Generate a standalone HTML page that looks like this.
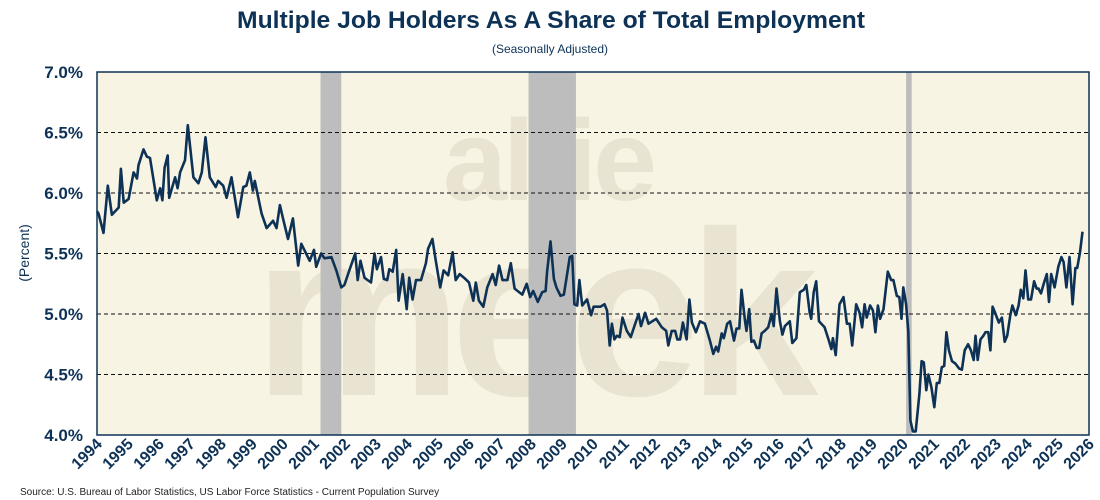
<!DOCTYPE html>
<html><head><meta charset="utf-8"><style>
body{margin:0;background:#fff;width:1100px;height:500px;overflow:hidden;font-family:"Liberation Sans",sans-serif}
svg{display:block}
</style></head><body>
<svg id="chart" width="1100" height="500" xmlns="http://www.w3.org/2000/svg">
<text x="551" y="28" text-anchor="middle" font-size="24" font-weight="bold" fill="#0d3256" textLength="628" lengthAdjust="spacingAndGlyphs">Multiple Job Holders As A Share of Total Employment</text>
<text x="550" y="53" text-anchor="middle" font-size="12" fill="#0d3256">(Seasonally Adjusted)</text>
<text transform="translate(29,253) rotate(-90)" text-anchor="middle" font-size="14" fill="#0d3256">(Percent)</text>
<text x="20" y="495" font-size="10" fill="#222">Source: U.S. Bureau of Labor Statistics, US Labor Force Statistics - Current Population Survey</text>
<g id="plot"></g>
</svg>
<script>
const yTicks=[4.0,4.5,5.0,5.5,6.0,6.5,7.0];
const years=[1994,1995,1996,1997,1998,1999,2000,2001,2002,2003,2004,2005,2006,2007,2008,2009,2010,2011,2012,2013,2014,2015,2016,2017,2018,2019,2020,2021,2022,2023,2024,2025,2026];
const recessions=[[2001.21,2001.88],[2007.92,2009.45],[2020.1,2020.28]];
const dates=[1994.0,1994.05,1994.21,1994.35,1994.48,1994.70,1994.77,1994.86,1995.02,1995.18,1995.29,1995.34,1995.50,1995.61,1995.71,1995.93,1996.04,1996.11,1996.18,1996.28,1996.33,1996.52,1996.60,1996.68,1996.84,1996.93,1997.11,1997.27,1997.38,1997.50,1997.64,1997.83,1997.91,1998.07,1998.18,1998.34,1998.55,1998.72,1998.82,1998.93,1999.03,1999.09,1999.31,1999.47,1999.68,1999.79,1999.90,2000.00,2000.16,2000.32,2000.49,2000.59,2000.86,2001.00,2001.07,2001.23,2001.34,2001.56,2001.72,
2001.88,2001.98,2002.14,2002.33,2002.41,2002.50,2002.63,2002.73,2002.84,2002.95,2003.03,2003.16,2003.25,2003.36,2003.43,2003.54,2003.65,2003.73,2003.86,2003.99,2004.07,2004.18,2004.29,2004.45,2004.61,2004.68,2004.82,2004.93,2005.07,2005.18,2005.33,2005.47,2005.57,2005.70,2005.84,2006.00,2006.14,2006.22,2006.32,2006.46,2006.59,2006.76,2006.86,2006.97,2007.08,2007.24,2007.35,2007.47,2007.72,2007.86,2007.97,2008.07,2008.22,2008.36,2008.47,2008.52,2008.63,2008.74,2008.82,2008.95,2009.06,2009.25,2009.33,2009.40,2009.49,2009.56,2009.65,2009.81,2009.94,2010.02,
2010.24,2010.37,2010.45,2010.54,2010.61,2010.69,2010.77,2010.86,2010.95,2011.09,2011.22,2011.36,2011.47,2011.55,2011.68,2011.79,2012.04,2012.22,2012.36,2012.43,2012.54,2012.65,2012.72,2012.81,2012.90,2013.02,2013.11,2013.19,2013.32,2013.45,2013.61,2013.77,2013.88,2013.97,2014.04,2014.15,2014.22,2014.33,2014.42,2014.55,2014.63,2014.72,2014.79,2014.90,2014.95,2015.04,2015.11,2015.19,2015.28,2015.36,2015.44,2015.54,2015.65,2015.76,2015.83,2015.92,2016.03,2016.11,2016.19,2016.35,2016.43,2016.56,2016.67,2016.80,2016.88,2016.99,2017.04,2017.12,2017.20,2017.29,2017.47,2017.61,2017.69,2017.74,2017.83,
2017.95,2018.08,2018.19,2018.28,2018.36,2018.49,2018.60,2018.68,2018.76,2018.83,2018.94,2019.03,2019.11,2019.19,2019.26,2019.37,2019.51,2019.62,2019.69,2019.80,2019.88,2019.95,2020.01,2020.10,2020.17,2020.24,2020.32,2020.41,2020.53,2020.60,2020.67,2020.75,2020.82,2020.92,2021.01,2021.09,2021.17,2021.25,2021.33,2021.40,2021.48,2021.58,2021.69,2021.81,2021.90,2021.99,2022.10,2022.19,2022.28,2022.34,2022.41,2022.50,2022.59,2022.66,2022.75,2022.82,2022.89,2022.97,2023.09,2023.19,2023.28,2023.36,2023.46,2023.53,2023.64,2023.73,2023.80,2023.88,2023.95,2024.04,2024.13,2024.23,2024.31,2024.37,2024.45,2024.54,2024.64,2024.71,2024.78,2024.89,2025.01,2025.11,2025.18,2025.27,2025.37,2025.47,2025.56,2025.62,2025.71,2025.79,2025.88];
const values=[5.85,5.83,5.67,6.06,5.82,5.88,6.20,5.92,5.95,6.17,6.12,6.23,6.36,6.30,6.29,5.94,6.04,5.94,6.21,6.31,5.96,6.13,6.04,6.17,6.27,6.56,6.13,6.08,6.17,6.46,6.13,6.05,6.10,6.06,5.96,6.13,5.80,6.05,6.06,6.17,6.02,6.10,5.83,5.71,5.77,5.71,5.90,5.79,5.62,5.79,5.40,5.58,5.44,5.53,5.39,5.50,5.46,5.47,5.36,
5.22,5.24,5.36,5.50,5.28,5.44,5.30,5.28,5.26,5.50,5.37,5.47,5.29,5.28,5.37,5.35,5.53,5.11,5.33,5.04,5.30,5.12,5.28,5.28,5.42,5.54,5.62,5.44,5.22,5.36,5.32,5.51,5.28,5.33,5.30,5.26,5.11,5.26,5.11,5.06,5.22,5.33,5.24,5.40,5.28,5.28,5.42,5.21,5.16,5.25,5.14,5.19,5.10,5.18,5.19,5.35,5.60,5.29,5.22,5.15,5.16,5.47,5.48,5.08,5.07,5.28,5.07,5.12,4.99,5.06,
5.06,5.08,5.03,4.74,4.92,4.79,4.82,4.81,4.97,4.86,4.81,4.92,5.00,4.90,5.01,4.92,4.96,4.89,4.86,4.74,4.86,4.86,4.79,4.79,4.93,4.79,5.12,4.93,4.85,4.94,4.92,4.78,4.67,4.73,4.69,4.84,4.80,4.92,4.94,4.78,4.88,4.88,5.20,4.95,4.86,5.04,4.77,4.78,4.72,4.72,4.84,4.86,4.89,5.00,4.90,5.21,4.94,4.83,4.90,4.94,4.76,4.80,5.18,5.20,5.24,5.01,4.96,5.18,5.27,4.94,4.89,4.78,4.71,4.80,4.66,
5.08,5.14,4.92,4.92,4.74,5.08,5.01,4.89,5.08,4.97,5.07,5.03,4.85,5.07,4.96,5.04,5.35,5.28,5.28,5.15,5.14,4.96,5.22,5.08,4.86,4.12,4.03,4.03,4.34,4.61,4.60,4.37,4.50,4.39,4.23,4.43,4.43,4.56,4.57,4.85,4.70,4.61,4.59,4.55,4.54,4.70,4.75,4.70,4.62,4.82,4.62,4.79,4.82,4.85,4.85,4.70,5.06,5.01,4.93,4.97,4.77,4.82,4.99,5.07,4.99,5.07,5.20,5.13,5.36,5.12,5.12,5.27,5.21,5.21,5.17,5.25,5.33,5.10,5.33,5.22,5.39,5.47,5.43,5.22,5.47,5.08,5.38,5.38,5.51,5.68];
const NS='http://www.w3.org/2000/svg';
const L=97,R=1089,T=72,B=435;
const x0=1994,x1=2026,yMin=4,yMax=7;
const sx=d=>L+(d-x0)/(x1-x0)*(R-L);
const sy=v=>B-(v-yMin)/(yMax-yMin)*(B-T);
const g=document.getElementById('plot');
function mk(tag,attrs){const e=document.createElementNS(NS,tag);for(const k in attrs)e.setAttribute(k,attrs[k]);g.appendChild(e);return e;}
const bg=mk('rect',{x:L,y:T,width:R-L,height:B-T,fill:'#f8f4e4'});


const wm1=mk('text',{x:548,y:200,'text-anchor':'middle','font-size':115,'font-weight':'bold',fill:'#e9e4d1','letter-spacing':'-4'});
wm1.textContent='alfie';


const wm2=mk('text',{x:530,y:395,'text-anchor':'middle','font-size':235,'font-weight':'bold',fill:'#e9e4d1','letter-spacing':'-12'});
wm2.textContent='meek';


recessions.forEach(r=>{const e=mk('rect',{x:sx(r[0]),y:T,width:sx(r[1])-sx(r[0]),height:B-T,fill:'#bdbdbd'});

});
yTicks.forEach(v=>{
 if(v>yMin&&v<yMax){const ln=mk('line',{x1:L,x2:R,y1:sy(v),y2:sy(v),stroke:'#111','stroke-width':1,'stroke-dasharray':'4,3'});
 
 }
 const t=mk('text',{x:83,y:sy(v)+6,'text-anchor':'end','font-size':17,'font-weight':'bold',fill:'#0d3256'});
 t.textContent=v.toFixed(1)+'%';
 
 
});
years.forEach(yr=>{
 const x=sx(yr);
 const t=mk('text',{transform:`translate(${x+6},${B+10}) rotate(-45)`,'text-anchor':'end','font-size':16,'font-weight':'bold',fill:'#0d3256'});
 t.textContent=yr;
 
 
});
let d='';dates.forEach((dt,i)=>{d+=(i?'L':'M')+sx(dt).toFixed(1)+','+sy(values[i]).toFixed(1);});
const line=mk('path',{d:d,fill:'none',stroke:'#0d3256','stroke-width':2.6,'stroke-linejoin':'round'});


const fr=mk('rect',{x:L,y:T,width:R-L,height:B-T,fill:'none',stroke:'#0d3256','stroke-width':1.5});


</script>
</body></html>
